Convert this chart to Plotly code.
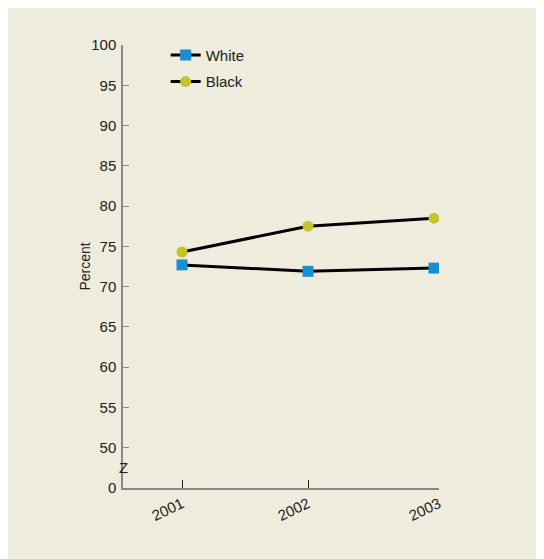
import plotly.graph_objects as go

years = [2001, 2002, 2003]
white = [72.7, 71.9, 72.3]
black = [74.3, 77.5, 78.5]
tick_vals = [45, 50, 55, 60, 65, 70, 75, 80, 85, 90, 95, 100]
tick_text = ["0", "50", "55", "60", "65", "70", "75", "80", "85", "90", "95", "100"]
x_labels = ["2001", "2002", "2003"]

BG = "#eeecdd"
FONT = "Liberation Sans, Arial, sans-serif"
X_END = 2003 + 5/126
x_tick_pos = [years[0], years[1], X_END]

fig = go.Figure()
fig.add_trace(go.Scatter(
    x=years, y=white, name="White", mode="lines+markers", legendgroup="w",
    line=dict(color="black", width=3),
    marker=dict(symbol="square", size=11, color="#1a8ed0"),
))
fig.add_trace(go.Scatter(
    x=years, y=black, name="Black", mode="lines+markers", legendgroup="b",
    line=dict(color="black", width=3),
    marker=dict(symbol="circle", size=11, color="#c3c52a"),
))

fig.update_layout(
    width=544, height=559,
    margin=dict(l=115, r=113, t=37, b=79),
    paper_bgcolor=BG, plot_bgcolor=BG,
    font=dict(family=FONT, size=15, color="#222"),
    showlegend=True,
    legend=dict(x=0.135, y=1.014, xanchor="left", yanchor="top",
                bgcolor="rgba(0,0,0,0)", font=dict(size=15, color="#222"),
                tracegroupgap=4),
    xaxis=dict(
        range=[2001 - 59/126, X_END],
        tickvals=x_tick_pos, ticktext=x_labels, tickangle=-25,
        showgrid=False, zeroline=False,
        showline=True, linecolor="#888", linewidth=1.5,
        ticks="inside", ticklen=8, tickcolor="#222", tickwidth=1,
        tickfont=dict(size=15, color="#222"),
    ),
    yaxis=dict(
        range=[45, 100],
        tickvals=tick_vals, ticktext=tick_text,
        showgrid=False, zeroline=False,
        showline=True, linecolor="#888", linewidth=1.5,
        ticks="inside", ticklen=6, tickcolor="#888", tickwidth=1,
        ticklabelstandoff=2,
        tickfont=dict(size=15, color="#222"),
    ),
    annotations=[
        dict(text="Z", xref="paper", yref="y", x=0, y=47.5, showarrow=False,
             font=dict(size=15, color="#222"), xanchor="center", yanchor="middle"),
        dict(text="Percent", xref="paper", yref="paper", x=-39/316, y=0.5,
             textangle=-90, showarrow=False, xanchor="center", yanchor="middle",
             font=dict(size=14, color="#222")),
    ],
)

fig.write_html("out.html")
